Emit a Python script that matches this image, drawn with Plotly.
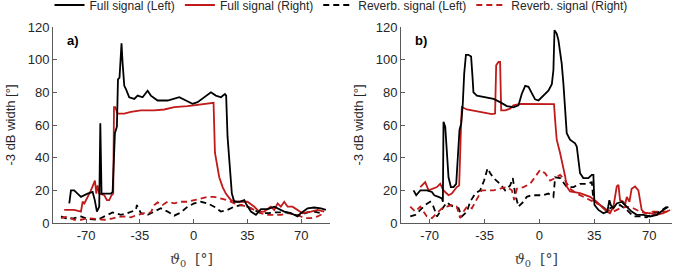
import plotly.graph_objects as go

# ---------------- Panel a) data ----------------
a_full_left_x = [-80.9, -79.8, -77.7, -73.3, -69.0, -65.7, -64.3, -62.9, -61.4, -60.7, -59.9, -58.0, -53.8, -52.7,
                 -51.2, -49.9, -49.2, -48.2, -46.9, -46.2, -45.1, -44.0, -41.9, -38.6, -36.4, -33.2, -29.9, -27.8,
                 -23.4, -16.9, -12.6, -9.3, -5.0, -0.7, 2.6, 6.9, 11.3, 14.5, 17.8, 20.4, 21.2, 22.1, 23.2, 24.3, 24.9,
                 26.5, 29.7, 33.0, 34.0, 37.3, 40.6, 43.8, 48.2, 52.5, 54.7, 59.0, 63.3, 67.7, 69.8, 74.2, 78.5, 82.9, 86.1]
a_full_left_y = [12, 20, 20, 16, 18, 19, 14, 7, 10, 61, 18, 18, 18, 19,
                 55, 59, 88, 89, 110, 98, 84, 82, 77, 76, 78, 77, 81, 78,
                 75, 75, 76, 77, 75, 73, 74, 77, 80, 78, 77, 79, 78, 53, 37, 28, 18,
                 13, 13, 14, 12, 7, 5, 8.5, 8.5, 10, 9, 7, 6, 4, 6, 9, 9.5, 9, 8]

a_full_right_x = [-84.2, -77.7, -73.3, -72.2, -71.1, -70.0, -68.3, -66.8, -64.2, -63.3, -62.5, -61.4, -58.1, -56.4,
                  -54.9, -53.4, -52.3, -51.8, -51.0, -49.5, -45.1, -40.8, -34.3, -25.6, -19.1, -12.6, -3.9, 4.8, 13.0,
                  13.9, 15.2, 16.7, 18.9, 21.0, 24.3, 28.6, 35.1, 39.5, 42.7, 46.0, 50.3, 52.5, 54.7, 56.8, 59.0, 61.2,
                  64.4, 67.7, 70.9, 76.4, 80.7, 85.0]
a_full_right_y = [8, 8, 7, 13, 12, 14, 18, 20, 26, 18, 23, 18, 17, 14,
                  14, 17, 18, 71, 71, 67, 67, 68, 69, 69, 69.5, 71, 71.6, 72.6, 73.6,
                  43, 37, 28, 22, 18, 14, 13, 13, 10, 7, 7, 10, 8, 12, 10, 13, 10,
                  10, 8, 6, 7, 8, 7]

a_rev_left_x = [-86.3, -82.0, -77.7, -73.3, -69.0, -62.5, -56.0, -52.7, -47.3, -43.0, -37.5, -36.9, -34.3, -29.9,
                -25.6, -21.3, -16.9, -12.6, -8.2, -3.9, 0.4, 4.8, 9.1, 13.4, 17.8, 22.1, 26.5, 30.8, 35.1, 39.5,
                43.8, 48.2, 52.5, 59.0, 63.3, 67.7, 74.2, 78.5, 82.9]
a_rev_left_y = [4, 2.5, 3, 4, 2.5, 2, 5, 6.5, 5, 6, 8, 11, 6, 5,
                7, 9, 7, 4.5, 6.5, 10, 12, 13, 12, 10, 7, 8, 10, 11, 10, 8,
                6, 6, 6.5, 6.5, 6, 4.5, 6.5, 7, 6]

a_rev_right_x = [-86.3, -82.0, -77.7, -73.3, -69.0, -62.5, -58.0, -53.8, -49.5, -45.1, -40.8, -36.4, -32.1, -27.8,
                 -25.6, -23.4, -20.2, -16.9, -12.6, -8.2, -3.9, 0.4, 4.8, 9.1, 13.4, 17.8, 22.1, 26.5, 30.8, 35.1,
                 39.5, 43.8, 48.2, 52.5, 56.8, 61.2, 67.7, 72.0, 76.4, 80.7, 85.0]
a_rev_right_y = [3, 4, 2, 2, 3, 2.5, 2, 2.6, 3.7, 4, 3.5, 5, 6, 6.5,
                 11, 12.6, 11, 13, 12, 13, 13, 14, 15, 16, 16, 15, 14, 12, 11, 10,
                 8, 6, 5, 5, 5, 6, 5, 3, 3, 4, 6]

# ---------------- Panel b) data ----------------
b_full_left_x = [-80.3, -78.6, -76.0, -71.8, -68.6, -67.1, -64.4, -62.2, -61.6, -61.2, -60.1, -59.1, -58.0, -56.5,
                 -54.8, -53.1, -52.3, -51.0, -49.9, -48.9, -48.0, -46.9, -45.3, -43.6, -42.7, -42.1, -39.9, -33.6,
                 -29.3, -25.1, -20.8, -16.6, -13.4, -11.3, -9.1, -7.0, -4.9, -2.8, -0.6, 2.5, 5.7, 7.9, 8.9, 9.6,
                 11.0, 12.1, 13.2, 14.2, 15.3, 16.4, 17.4, 19.5, 22.7, 23.8, 24.9, 25.9, 28.0, 31.2, 33.4, 34.4,
                 35.1, 37.6, 40.8, 43.3, 44.6, 45.5, 47.2, 49.3, 52.5, 55.7, 58.8, 62.0, 66.3, 70.5, 74.8, 79.0, 82.2]
b_full_left_y = [20, 17, 20, 20, 19, 17, 16, 15, 13, 62, 59, 43, 28, 22,
                 22, 24, 37, 57, 61, 73, 91.5, 103, 103, 102, 89.5, 80, 78, 77,
                 76, 74, 71.6, 70.8, 72, 79, 84, 83.4, 79, 75.7, 75, 78, 81, 85, 93.5, 118,
                 116, 112, 104, 97.6, 85, 67, 55, 51, 48.8, 46.8, 36.6, 30.5, 27.5, 27.5, 29.5, 29.5,
                 11, 8, 6, 7, 14, 11, 9, 12, 13, 10, 7, 5, 5, 4, 5, 8, 10]

b_full_right_x = [-76.0, -72.9, -70.7, -65.4, -63.3, -61.2, -58.0, -55.9, -52.7, -51.2, -50.0, -49.5, -46.3, -42.1,
                  -35.7, -30.4, -28.3, -27.6, -26.1, -25.1, -24.4, -21.9, -18.7, -16.6, -12.3, -3.8, 4.7, 9.3, 10.0,
                  11.0, 13.2, 15.3, 16.4, 17.4, 19.5, 25.9, 32.3, 36.5, 40.8, 42.9, 45.0, 47.2, 49.3, 50.4, 51.4,
                  53.5, 54.6, 55.7, 57.4, 58.8, 61.0, 63.1, 65.2, 67.3, 70.5, 74.8, 79.0, 83.3]
b_full_right_y = [22, 25, 20, 22, 24, 20, 17, 18, 22, 23, 60, 71, 69.5, 68.7,
                  67.5, 66.7, 67, 96.6, 98.6, 98.6, 69, 69, 70, 72, 73, 73, 73, 72.8, 63,
                  51, 42.7, 34.6, 28.5, 22.4, 19.3, 18.3, 16, 13, 9, 7, 6, 10, 22.4, 23.4, 14,
                  13, 11, 16, 13, 21, 22.4, 20, 8, 6, 6, 5, 6, 8]

b_rev_left_x = [-82.4, -79.2, -76.0, -72.9, -69.7, -67.6, -65.4, -63.3, -61.2, -59.1, -56.9, -54.8, -51.6, -49.5,
                -46.3, -44.2, -41.0, -37.8, -35.3, -33.1, -31.4, -29.3, -25.1, -21.9, -18.7, -17.0, -15.5, -13.4,
                -10.2, -8.1, -4.9, -0.6, 2.5, 5.7, 8.9, 10.0, 13.2, 17.4, 21.7, 25.9, 30.2, 33.4, 34.4, 38.7, 42.9,
                47.2, 51.4, 55.7, 59.9, 64.2, 68.4, 72.7, 76.9, 81.2]
b_rev_left_y = [4, 5, 8, 11, 13, 10, 4, 7, 10, 12.6, 11, 10, 9, 4,
                7, 13, 18, 20, 26, 33.5, 30.5, 27.5, 24, 20, 23, 27.5, 18, 10,
                13, 16, 17, 17, 17, 18, 16, 28, 27.5, 22, 22, 24, 24, 25, 14, 11, 8,
                10, 11, 8, 4, 4, 3.5, 6, 7, 10]

b_rev_right_x = [-82.4, -79.2, -76.0, -71.8, -68.6, -65.4, -62.2, -59.1, -55.9, -52.7, -50.6, -48.4, -46.3, -43.1,
                 -41.0, -38.9, -36.8, -33.6, -29.3, -25.1, -20.8, -17.6, -16.1, -14.4, -10.2, -5.9, -2.8, 0.4, 3.6,
                 6.8, 10.0, 13.2, 16.4, 19.5, 23.8, 30.2, 34.4, 38.7, 42.9, 47.2, 51.4, 55.7, 59.9, 64.2, 68.4, 72.7,
                 76.9, 81.2, 84.3]
b_rev_right_y = [10, 7, 10, 4, 3, 6, 9, 10, 11, 10, 3, 7, 10, 9,
                 13, 16, 20, 20, 20, 21, 22, 20, 14, 21, 22, 24, 28, 32.5, 30.5,
                 26, 27.5, 29.5, 26, 21, 18, 15, 13, 11, 8, 7, 9, 10, 9, 7, 6, 7,
                 7, 7, 8]

x_ticks = [-70, -35, 0, 35, 70]
y_ticks = [0, 20, 40, 60, 80, 100, 120]
series_names = ["Full signal (Left)", "Full signal (Right)", "Reverb. signal (Left)", "Reverb. signal (Right)"]

BLACK = "#000000"
RED = "#C01A1A"
DASH = "6px,4px"
LW = 1.8

fig = go.Figure()

panels = [
    ("x", "y", a_full_left_x, a_full_left_y, a_full_right_x, a_full_right_y,
     a_rev_left_x, a_rev_left_y, a_rev_right_x, a_rev_right_y, True),
    ("x2", "y2", b_full_left_x, b_full_left_y, b_full_right_x, b_full_right_y,
     b_rev_left_x, b_rev_left_y, b_rev_right_x, b_rev_right_y, False),
]
for xa, ya, flx, fly, frx, fry, rlx, rly, rrx, rry, show in panels:
    fig.add_trace(go.Scatter(x=rlx, y=rly, mode="lines", name=series_names[2], showlegend=show, legendrank=3,
                             line=dict(color=BLACK, width=LW, dash=DASH), xaxis=xa, yaxis=ya))
    fig.add_trace(go.Scatter(x=rrx, y=rry, mode="lines", name=series_names[3], showlegend=show, legendrank=4,
                             line=dict(color=RED, width=LW, dash=DASH), xaxis=xa, yaxis=ya))
    fig.add_trace(go.Scatter(x=frx, y=fry, mode="lines", name=series_names[1], showlegend=show, legendrank=2,
                             line=dict(color=RED, width=LW), xaxis=xa, yaxis=ya))
    fig.add_trace(go.Scatter(x=flx, y=fly, mode="lines", name=series_names[0], showlegend=show, legendrank=1,
                             line=dict(color=BLACK, width=LW), xaxis=xa, yaxis=ya))

AX = "#5a5a5a"
TXT = "#262626"
common_x = dict(tickvals=x_ticks, ticktext=[str(t) for t in x_ticks], ticks="inside", ticklen=4,
                tickcolor=AX, showline=True, linecolor=AX, linewidth=1, showgrid=False, zeroline=False,
                tickfont=dict(size=13, color=TXT),
                title=dict(text="<i>ϑ</i><sub>0</sub>  [°]", font=dict(family="DejaVu Serif, serif", size=14, color="#444"),
                           standoff=12))
common_y = dict(range=[0, 120], tickvals=y_ticks, ticks="inside", ticklen=4, tickcolor=AX, showline=True,
                linecolor=AX, linewidth=1, showgrid=False, zeroline=False, tickfont=dict(size=13, color=TXT),
                title=dict(text="-3 dB width [°]", font=dict(size=13, color=TXT), standoff=9))

fig.update_layout(
    width=682, height=279,
    margin=dict(l=0, r=0, t=0, b=0, autoexpand=False),
    paper_bgcolor="white", plot_bgcolor="white",
    font=dict(family="Liberation Sans, Arial, sans-serif", color=TXT),
    xaxis=dict(domain=[0.0777, 0.4839], range=[-91.5, 88.8], anchor="y", **common_x),
    yaxis=dict(domain=[0.2007, 0.9032], anchor="x", **common_y),
    xaxis2=dict(domain=[0.588, 0.985], range=[-88.3, 84.4], anchor="y2", **common_x),
    yaxis2=dict(domain=[0.2007, 0.9032], anchor="x2", **common_y),
    legend=dict(orientation="h", x=0.5, xanchor="center", yref="container", y=0.982, yanchor="middle",
                font=dict(size=12, color=TXT), bgcolor="rgba(0,0,0,0)", itemwidth=30,
                traceorder="normal"),
    showlegend=True,
    annotations=[
        dict(text="<b>a)</b>", xref="x domain", yref="y domain", x=0.045, y=0.93, showarrow=False,
             xanchor="left", yanchor="middle", font=dict(size=13, color="black")),
        dict(text="<b>b)</b>", xref="x2 domain", yref="y2 domain", x=0.045, y=0.93, showarrow=False,
             xanchor="left", yanchor="middle", font=dict(size=13, color="black")),
    ],
)

fig.write_html("out.html")
